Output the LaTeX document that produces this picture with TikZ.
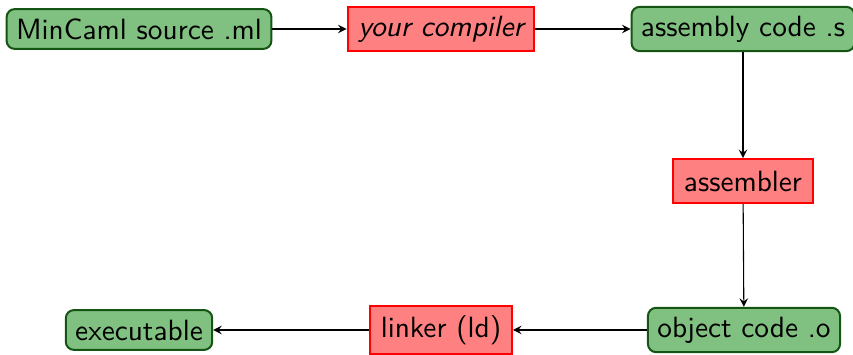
\documentclass[tikz,border=0pt]{standalone}
\usepackage{tikz}
\usetikzlibrary{arrows,shapes}
\definecolor{filegreen}{RGB}{128,192,128}
\definecolor{filedark}{RGB}{20,85,20}

\begin{document}
\begin{tikzpicture}[font=\sffamily\fontsize{10.9pt}{13pt}\selectfont]
    \tikzstyle{file}=[rectangle, rounded corners=3pt, draw=filedark, fill=filegreen,
    line width=0.75pt, inner xsep=3.5pt, minimum height=14.8pt]
    \tikzstyle{tool}=[rectangle, draw=red, fill=red!50, line width=0.75pt,
    inner xsep=4pt, minimum height=16.3pt]
    \useasboundingbox (0,0) rectangle (11.149,-4.627);

    \node[file] (src) at (1.817,-0.379) {MinCaml source .ml};
    \node[tool] (comp) at (5.764,-0.379) {\itshape your compiler};
    \node[file] (asm) at (9.711,-0.379) {assembly code .s};
    \node[tool] (as) at (9.711,-2.366) {assembler};
    \node[file] (obj) at (9.724,-4.313) {object code .o};
    \node[tool] (ld) at (5.764,-4.313) {linker (ld)};
    \node[file] (exe) at (1.817,-4.313) {executable};

\draw[-stealth] (src) -- (comp);
\draw[-stealth] (comp) -- (asm);
\draw[-stealth] (asm) -- (as);
\draw[-stealth] (as) -- (obj);
\draw[-stealth] (obj) -- (ld);
\draw[-stealth] (ld) -- (exe);

\end{tikzpicture}
\end{document}
